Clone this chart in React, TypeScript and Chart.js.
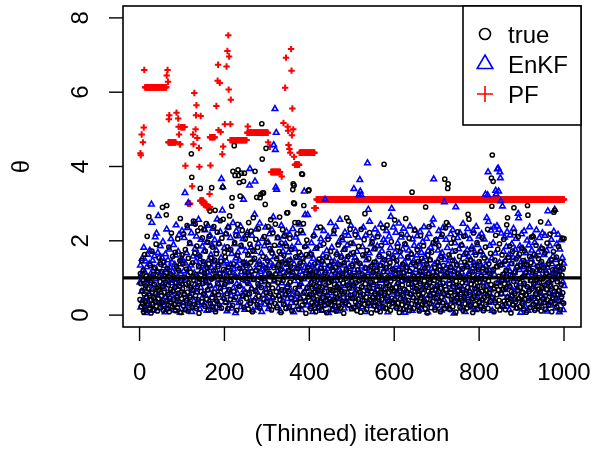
import React, { useEffect, useRef } from "react";
import { Chart, registerables } from "chart.js";

Chart.register(...registerables);

// Axis ticks and reference level
const xTicks = [0, 200, 400, 600, 800, 1000];
const yTicks = [0, 2, 4, 6, 8];
const refLevel = 1;
const seriesNames = ["true", "EnKF", "PF"];
const xTitle = "(Thinned) iteration";
const yTitle = "θ";

// true parameter draws, iterations 1..1000
const trueValues = [
  0.42,1.12,0.85,0.23,1.47,0.66,0.31,0.94,1.21,0.08,
  0.57,1.63,0.35,0.79,0.14,1.05,0.48,2.12,0.27,0.71,
  0.96,2.65,0.19,0.53,1.34,0.88,0.06,0.41,1.72,0.62,
  0.29,1.09,0.47,0.15,0.83,1.28,0.37,0.58,1.91,0.24,
  0.73,0.11,1.16,0.44,0.67,1.54,0.32,0.9,0.21,1.37,
  0.52,1.18,0.34,2.9,0.77,0.13,1.42,0.61,0.26,1.05,
  0.89,0.38,2.7,2.95,0.17,1.26,0.55,0.81,1.83,0.09,
  0.46,1.12,0.69,0.33,2.21,0.95,0.22,1.58,0.64,0.41,
  1.03,0.28,0.74,1.69,0.12,0.86,1.31,0.49,0.2,2.05,
  0.59,1.21,0.36,0.78,1.47,2.6,0.07,0.93,0.44,1.62,
  0.71,1.38,0.25,2.18,0.56,1.02,0.15,1.76,0.83,0.39,
  1.24,2.41,0.62,0.11,1.53,0.87,0.32,1.95,0.48,1.15,
  0.74,4.34,3.71,0.21,1.41,0.66,2.53,0.94,0.29,1.67,
  2.45,0.53,1.09,0.18,1.86,0.77,2.27,0.41,1.32,0.05,
  0.98,1.59,3.41,2.35,0.63,1.17,0.36,2.08,0.85,1.44,
  0.57,2.31,1.13,0.24,1.72,0.92,2.46,0.43,1.27,0.68,
  1.96,0.14,1.38,2.12,0.79,2.8,0.31,1.54,0.97,3.43,
  0.47,1.83,0.22,1.19,2.38,0.61,1.48,2.82,0.09,1.04,
  1.65,0.38,2.23,0.86,1.31,0.55,1.92,0.27,1.12,2.54,
  0.72,1.45,0.19,2.07,0.96,3.44,2.58,1.23,0.44,1.69,
  0.83,1.57,0.34,2.19,1.06,0.58,1.84,0.17,1.29,2.36,
  0.69,2.67,1.14,0.42,1.76,0.91,2.93,3.16,0.26,3.87,
  1.38,0.64,4.56,1.95,3.76,0.48,2.14,1.02,0.13,1.61,
  2.44,3.91,3.76,0.77,3.57,1.26,3.2,0.35,1.88,3.82,
  0.97,2.28,0.53,1.43,3.6,0.21,3.82,1.17,2.05,0.62,
  1.34,0.45,2.17,0.88,1.63,0.16,2.49,1.08,0.57,1.91,
  0.32,1.42,2.26,0.71,1.18,0.09,1.74,2.62,0.96,0.39,
  1.53,3.87,0.66,2.04,1.21,3.17,0.28,1.82,0.84,2.33,
  0.51,1.37,0.19,3.16,1.01,3.25,0.74,5.15,4.2,3.29,
  1.58,3.29,0.43,2.11,0.92,2.98,1.27,4.49,0.61,1.96,
  0.37,1.46,2.38,0.82,1.13,0.24,1.79,0.58,2.57,1.04,
  0.14,1.67,0.73,2.21,0.46,1.28,0.95,1.88,0.31,2.45,
  1.11,0.63,1.52,0.2,2.09,0.87,1.35,0.52,1.71,2.64,
  0.41,1.22,0.07,1.94,0.68,1.43,2.3,0.93,0.29,1.61,
  1.05,2.13,0.55,1.39,0.18,1.86,2.75,0.76,2.76,1.19,
  0.64,1.48,0.23,2.06,0.89,1.32,0.47,1.77,0.12,1.16,
  3.38,3.53,3.02,3.49,3.0,2.49,0.72,1.57,0.34,1.03,
  2.19,0.58,1.25,2.49,0.16,1.69,0.81,1.4,0.44,2.28,
  0.97,3.8,0.27,3.79,1.52,2.46,2.95,0.62,1.84,0.38,
  1.14,0.05,1.63,2.02,0.74,1.29,0.49,3.35,3.37,1.08,
  0.56,1.21,0.18,0.87,1.64,0.33,0.72,1.09,0.45,2.13,
  0.27,0.94,1.38,0.61,0.09,1.17,0.79,1.82,0.41,0.66,
  1.03,0.22,1.51,0.57,0.86,2.37,0.35,1.26,0.14,0.74,
  1.45,0.48,0.98,1.92,0.26,0.63,1.14,0.39,0.81,1.57,
  0.07,1.02,0.53,2.04,0.31,0.88,1.33,0.44,0.69,1.71,
  0.28,0.92,1.44,0.15,0.67,1.19,0.42,2.27,0.83,0.36,
  1.28,0.58,0.11,1.63,0.77,0.47,1.08,1.89,0.24,0.71,
  1.36,0.52,0.95,0.19,1.55,0.64,2.09,0.38,1.12,0.86,
  0.05,1.41,0.62,1.77,0.33,0.99,1.24,2.62,0.46,0.81,
  1.58,2.53,0.27,0.73,1.15,2.31,0.54,1.94,0.18,0.9,
  1.33,0.45,0.79,1.68,0.21,1.06,0.58,2.16,0.35,0.87,
  1.47,0.12,0.69,1.22,0.43,1.85,0.26,0.94,1.39,0.61,
  0.08,2.31,0.76,1.11,0.39,1.62,0.55,0.97,2.03,0.29,
  2.73,0.84,1.27,0.48,0.16,1.74,0.66,1.04,0.32,1.52,
  0.74,2.22,0.41,0.89,1.31,0.06,0.63,1.96,0.47,1.16,
  0.82,0.25,1.43,0.57,1.79,0.36,0.93,1.21,0.14,0.68,
  2.11,0.49,1.06,0.31,1.58,0.77,0.09,1.34,0.62,1.88,
  0.42,0.96,2.35,0.23,1.17,4.06,0.54,1.49,0.71,0.18,
  1.27,0.87,2.42,0.38,1.03,0.6,1.66,0.27,0.79,1.41,
  0.13,0.92,1.98,0.46,0.72,1.24,0.34,1.55,0.66,0.99,
  2.56,0.41,1.09,0.74,0.19,1.46,0.58,1.83,0.32,0.87,
  1.22,0.07,0.65,1.71,0.44,1.02,2.18,0.28,0.81,1.37,
  0.53,0.15,1.14,0.69,1.92,0.36,2.6,0.95,0.23,1.29,
  0.61,1.57,0.4,0.83,2.07,0.12,1.18,0.56,0.97,1.64,
  0.3,3.31,0.75,1.41,0.47,0.18,1.05,2.29,0.63,0.88,
  1.32,0.39,0.71,1.76,0.24,0.98,1.45,0.55,0.11,1.19,
  0.84,2.14,0.46,0.68,1.53,0.29,1.07,0.59,1.86,0.35,
  0.92,1.26,0.17,2.91,0.78,1.38,0.43,0.06,1.61,0.64,
  1.12,2.38,0.31,0.89,1.49,0.52,0.2,1.69,0.76,1.03,
  0.37,1.95,0.58,0.94,1.28,0.14,0.67,2.03,0.45,1.15,
  0.81,0.26,1.42,0.63,1.87,0.38,0.97,1.21,0.09,0.72,
  1.56,0.48,2.17,0.33,0.86,1.33,0.57,0.18,3.66,1.08,
  2.35,0.69,2.49,0.27,1.14,3.41,3.53,0.52,1.62,0.84,
  0.15,1.29,0.61,1.94,0.42,0.99,1.47,0.23,0.77,2.06,
  0.36,1.18,0.54,1.73,0.08,0.91,1.36,0.47,2.24,0.65,
  1.11,0.34,0.79,1.58,0.21,1.02,0.56,1.89,0.4,0.87,
  1.25,0.13,0.68,2.12,0.49,1.43,0.3,0.95,1.67,0.58,
  0.19,1.31,0.74,2.71,0.37,2.58,1.07,0.62,1.49,0.25,
  0.83,1.78,0.44,1.16,0.07,0.93,2.21,0.51,1.34,0.71,
  0.28,1.62,0.98,0.42,1.95,0.16,0.77,1.23,0.59,1.44,
  0.35,0.89,1.71,0.22,1.05,0.64,2.08,0.41,1.27,0.12,
  0.76,1.54,0.48,0.97,1.83,0.29,0.66,1.19,0.53,2.31,
  0.18,0.92,1.38,0.6,1.12,0.37,1.66,0.82,3.69,2.93,
  4.31,0.47,3.6,1.23,0.09,0.71,1.48,0.33,2.15,0.86,
  1.31,0.55,0.24,1.77,0.68,1.04,0.4,1.92,0.14,0.79,
  1.35,0.57,0.93,1.62,0.26,1.1,0.69,2.04,0.38,0.84,
  1.45,0.15,0.72,1.21,2.43,0.49,2.62,0.96,1.56,0.31,
  0.78,1.86,0.44,1.08,0.06,0.63,1.39,0.52,1.72,0.27,
  0.91,2.89,2.22,0.58,1.17,0.36,1.51,0.81,0.19,1.29,
  0.67,2.11,0.45,0.98,1.64,0.23,0.74,1.33,0.51,1.81,
  0.32,1.02,0.61,1.47,0.17,0.86,1.73,0.42,1.14,0.55,
  0.08,1.36,0.77,2.95,2.69,0.39,1.25,0.64,1.58,0.21,
  0.93,1.41,2.1,0.48,0.72,1.19,2.12,0.29,0.84,1.63,
  0.13,1.07,0.57,1.88,0.35,0.96,1.32,0.46,0.7,1.52,
  0.24,0.88,1.21,0.62,2.51,0.11,1.44,0.75,1.79,0.43,
  0.99,1.28,0.34,0.81,1.67,0.52,0.16,1.13,0.69,1.94,
  0.41,0.87,1.37,0.27,1.05,0.58,2.18,0.36,0.78,1.49,
  0.09,0.95,1.22,0.47,1.71,2.77,0.63,2.82,0.31,1.11,
  0.74,1.56,0.22,0.9,1.3,0.54,1.85,0.38,0.66,1.18,
  0.14,1.42,0.83,0.49,1.07,2.07,0.6,1.26,0.32,2.06,
];

// EnKF estimates, iterations 1..1000
const enkfValues = [
  0.88,1.34,0.21,1.07,0.63,1.52,0.39,0.95,1.21,1.82,
  0.14,1.16,0.72,1.45,0.48,0.06,1.29,0.84,1.63,0.31,
  1.01,0.57,1.38,1.74,0.25,0.92,1.12,2.98,2.49,0.68,
  1.47,0.12,0.81,1.26,1.59,0.44,2.1,0.97,0.33,2.2,
  1.19,0.54,1.68,2.67,0.76,1.03,0.19,1.41,1.86,0.62,
  1.14,0.36,1.55,0.83,1.97,0.27,1.09,0.71,1.33,0.08,
  1.64,0.49,1.22,2.31,0.93,0.41,1.48,0.17,1.05,1.77,
  0.59,1.28,0.35,2.05,0.86,1.42,0.23,1.17,0.66,1.89,
  0.45,0.98,1.36,0.13,1.61,2.42,0.77,1.24,0.52,1.03,
  1.71,0.29,2.16,0.91,1.37,0.07,1.11,0.64,1.53,2.27,
  0.84,1.46,0.32,1.18,2.08,0.57,3.29,1.39,0.15,0.96,
  1.67,0.43,2.35,1.08,3.02,0.26,1.25,0.78,1.92,0.51,
  1.34,2.21,0.09,1.02,0.69,1.58,2.46,0.37,1.13,0.82,
  1.79,0.22,1.44,2.12,0.61,1.06,0.34,1.63,2.57,0.89,
  1.29,0.16,1.51,0.74,2.03,1.19,0.46,1.85,0.95,1.37,
  0.28,1.72,1.04,2.29,0.53,1.31,0.87,1.96,0.12,1.15,
  2.41,0.67,1.49,0.38,1.08,2.15,0.79,1.62,0.24,1.27,
  1.88,0.55,2.33,0.99,0.14,1.43,2.02,0.71,1.21,0.42,
  1.74,1.06,2.58,0.31,1.35,0.83,1.93,0.19,1.12,2.24,
  0.62,1.54,3.67,0.95,2.82,3.45,0.47,1.39,0.76,1.81,
  1.18,0.35,2.19,0.88,1.45,0.11,1.03,2.37,0.64,1.29,
  1.76,0.27,0.93,2.08,1.36,0.52,1.65,0.18,1.14,2.48,
  0.73,1.24,0.41,1.91,1.07,0.06,1.53,2.26,0.84,1.32,
  0.58,1.69,2.13,0.33,1.01,1.47,0.79,2.39,0.22,1.16,
  1.84,0.49,1.27,2.05,3.11,0.67,1.41,0.15,1.09,1.73,
  0.92,1.38,0.26,2.22,1.13,0.57,1.61,0.84,3.49,3.94,
  1.26,0.38,1.82,0.71,2.14,1.02,0.13,1.49,0.96,1.71,
  2.71,3.6,0.45,1.19,2.31,0.63,1.35,0.21,1.06,1.93,
  0.78,1.44,2.47,0.34,1.17,0.89,1.67,0.09,1.23,2.06,
  0.55,1.31,0.97,1.86,0.29,1.11,2.36,0.68,1.52,0.43,
  1.27,0.81,1.96,0.17,1.08,2.18,0.62,1.42,0.36,1.74,
  1.05,2.29,0.48,1.33,2.64,4.58,0.91,1.57,5.55,4.45,
  3.44,4.91,3.38,0.24,1.18,2.07,0.73,1.39,0.52,1.88,
  1.12,0.11,1.64,2.41,0.86,1.24,0.39,1.71,2.12,0.65,
  1.46,0.28,1.03,1.92,0.57,2.25,1.15,0.44,1.36,0.82,
  1.69,0.19,1.21,2.17,0.68,1.48,0.33,1.07,1.83,0.54,
  2.32,1.13,0.08,1.37,0.92,1.78,0.41,2.09,1.26,0.61,
  1.54,0.23,1.01,1.95,0.76,1.32,2.44,0.47,1.17,0.85,
  1.62,0.14,1.09,2.21,0.58,1.43,0.97,3.33,1.28,2.7,
  0.36,1.86,0.71,1.19,0.26,2.7,1.04,1.58,0.49,1.35,
  0.83,1.66,0.22,1.12,1.94,0.57,1.31,0.09,0.98,1.52,
  2.16,0.44,1.23,0.77,1.79,0.31,1.07,2.34,0.62,1.41,
  0.18,1.14,0.86,1.87,0.39,1.28,2.05,0.69,1.47,0.12,
  1.02,1.61,0.53,2.27,0.94,1.36,3.11,0.27,1.18,0.74,
  1.73,0.41,1.25,2.11,0.06,0.97,1.54,0.59,1.33,2.48,
  0.35,1.09,1.82,0.66,1.27,0.15,2.19,0.92,1.45,0.48,
  1.13,2.38,0.24,1.01,1.67,0.73,1.39,0.11,1.96,0.84,
  1.21,2.57,0.43,1.15,0.67,1.58,0.32,2.02,1.06,0.56,
  1.76,0.18,1.34,2.23,0.79,1.19,0.38,1.49,1.88,0.61,
  1.04,2.14,0.27,1.29,0.87,1.63,0.45,2.41,1.1,0.72,
  1.37,0.16,1.92,0.83,3.4,1.22,0.47,1.55,2.26,0.64,
  1.08,1.71,0.29,1.42,2.09,0.91,3.24,1.16,3.64,3.33,
  0.53,3.24,1.31,0.21,1.84,0.75,2.36,1.03,0.4,1.59,
  1.26,0.09,2.15,0.96,1.48,0.58,4.09,1.13,2.84,0.34,
  1.67,2.52,0.71,1.19,0.25,1.91,0.87,1.35,2.07,0.49,
  1.14,1.78,0.32,1.05,2.31,0.62,1.43,0.14,1.27,1.86,
  0.77,2.18,0.45,1.11,1.62,0.26,1.33,2.44,0.93,0.57,
  1.72,1.01,0.19,1.49,2.03,0.68,1.24,0.37,1.95,0.84,
  1.38,2.27,0.52,1.17,0.08,1.56,0.99,2.12,0.41,1.29,
  1.81,2.65,0.73,2.87,1.06,0.3,1.52,2.36,0.61,1.21,
  0.44,1.69,1.12,2.22,0.23,1.36,0.85,1.93,0.56,1.24,
  2.47,0.71,1.05,0.17,1.58,2.09,0.92,1.31,0.38,1.77,
  1.15,2.33,0.49,1.42,0.07,1.01,1.89,0.66,1.27,2.16,
  0.33,1.53,0.97,1.74,0.21,1.18,2.39,0.58,1.35,0.82,
  1.64,0.12,2.04,1.09,0.47,1.46,1.87,0.74,2.28,0.95,
  1.22,0.36,1.61,2.13,0.63,1.07,1.84,0.26,1.39,0.89,
  2.24,1.14,0.51,1.68,0.15,1.27,1.97,0.72,1.45,2.37,
  0.42,1.03,1.56,0.29,1.19,2.06,0.81,1.34,0.08,1.73,
  1.11,2.19,0.55,1.48,0.94,1.82,0.31,1.25,2.43,0.67,
  1.16,2.58,3.66,0.46,1.37,1.91,0.19,1.08,2.01,0.77,
  1.43,0.58,1.74,1.02,2.27,0.34,1.31,0.86,1.59,2.11,
  0.13,1.18,1.67,0.61,2.35,1.05,0.41,3.04,1.49,0.78,
  1.26,2.03,0.24,1.12,1.81,0.53,1.37,2.42,0.92,0.17,
  1.55,1.09,2.18,0.69,1.28,0.37,1.71,2.29,0.83,1.16,
  0.05,1.46,1.94,0.62,2.91,1.03,0.48,1.34,2.08,0.75,
  1.23,1.78,0.32,1.07,2.21,0.59,1.42,0.18,1.15,1.88,
  0.71,2.46,1.01,0.44,1.63,1.29,0.09,2.14,0.87,1.36,
  0.52,1.75,2.32,0.27,1.11,1.57,0.66,2.05,1.19,0.38,
  1.48,0.94,1.83,0.21,1.26,2.27,0.56,1.41,0.81,1.68,
  0.14,1.02,2.38,0.73,1.32,1.89,0.47,1.17,0.96,2.12,
  0.61,1.39,0.25,1.72,1.08,2.19,0.43,1.27,0.88,1.61,
  0.16,2.04,1.14,0.57,3.25,1.33,0.79,2.62,1.46,3.23,
  3.85,2.51,0.34,1.21,1.87,0.67,1.05,2.28,0.49,1.53,
  0.12,1.18,1.94,0.72,2.36,1.09,0.38,1.66,3.35,3.26,
  1.29,2.4,3.93,0.86,3.95,3.33,2.3,1.42,3.85,3.69,
  3.07,2.2,0.58,1.35,2.93,0.95,1.71,0.23,1.12,2.09,
  0.68,1.47,0.31,1.84,1.03,2.24,0.47,1.26,0.84,1.62,
  0.14,1.19,2.15,0.76,1.38,0.52,1.91,1.07,0.29,1.55,
  2.33,0.63,1.14,0.41,1.76,0.97,2.06,0.19,1.31,0.73,
  1.58,2.73,2.61,0.45,1.22,1.86,0.88,0.07,1.43,2.18,
  0.62,1.29,1.79,0.36,1.08,2.26,0.81,1.44,0.22,1.67,
  1.16,0.54,2.01,1.32,0.12,1.05,1.88,0.69,2.37,1.23,
  0.43,1.52,0.93,1.74,0.27,1.13,2.12,0.77,1.36,0.49,
  1.95,1.01,0.16,1.59,2.29,0.64,1.21,0.86,1.69,0.31,
  1.11,2.08,0.58,1.4,0.96,1.81,0.24,1.27,2.21,0.71,
  1.34,0.47,1.62,1.04,2.14,0.33,1.19,0.82,1.73,0.1,
  1.28,2.8,2.47,0.6,1.45,0.91,1.86,0.26,1.07,2.03,
  0.72,1.37,0.44,1.58,1.14,2.25,0.53,2.84,1.24,0.18,
  1.49,0.97,1.91,0.38,1.16,2.17,0.66,1.31,0.08,1.77,
  1.02,0.55,2.02,1.23,0.35,1.54,0.89,0.14,1.39,0.79,
];

// PF chain: constant stretches (first iteration, last iteration, level)
const pfRunStart = [13, 68, 97, 114, 143, 151, 159, 166, 214, 254, 310, 366, 377, 412, 417];
const pfRunEnd = [63, 85, 106, 119, 150, 158, 166, 177, 252, 302, 331, 376, 412, 415, 1000];
const pfRunLevel = [6.13, 4.65, 5.06, 3.0, 3.08, 2.98, 2.9, 4.79, 4.71, 4.91, 3.85, 4.05, 4.37, 2.88, 3.11];

// PF chain: isolated moves
const pfIter = [
  2, 3, 5, 8, 10, 11, 64, 66, 67, 69, 70, 87, 91, 92, 93, 95, 96, 108, 124, 126, 127, 129,
  132, 133, 134, 136, 140, 141, 144, 165, 167, 181, 184, 185, 186, 189, 191, 195, 197, 201,
  205, 207, 209, 210, 211, 214, 215, 255, 303, 307, 335, 339, 343, 345, 349, 350, 351, 353,
  355, 357, 358, 359, 360, 362, 364,
];
const pfValue = [
  4.36, 4.3, 4.86, 4.65, 5.05, 6.6, 6.45, 6.6, 6.28, 5.27, 5.38, 5.45, 5.29, 5.07, 4.86, 4.6,
  4.6, 4.02, 3.47, 4.86, 4.6, 5.98, 5.0, 5.38, 5.65, 4.77, 4.5, 3.99, 5.36, 3.26, 4.03, 5.63,
  6.31, 6.74, 4.98, 6.25, 4.93, 4.33, 4.54, 5.14, 6.69, 7.11, 7.53, 6.07, 6.96, 5.14, 5.8,
  5.08, 4.65, 4.53, 3.73, 5.17, 6.12, 6.93, 5.07, 4.96, 4.58, 4.47, 4.37, 7.16, 6.58, 4.84,
  5.56, 5.0, 4.26,
];

const FONT = '24px "Liberation Sans", Arial, Helvetica, sans-serif';

function buildPf() {
  const pts: { x: number; y: number }[] = [];
  pfRunStart.forEach((s, k) => {
    for (let it = s; it <= pfRunEnd[k]; it++) pts.push({ x: it, y: pfRunLevel[k] });
  });
  pfIter.forEach((it, k) => pts.push({ x: it, y: pfValue[k] }));
  return pts;
}

function drawSymbol(ctx: CanvasRenderingContext2D, kind: string, x: number, y: number, r: number) {
  ctx.beginPath();
  if (kind === "circle") {
    ctx.arc(x, y, r, 0, Math.PI * 2);
  } else if (kind === "triangle") {
    for (let k = 0; k < 3; k++) {
      const a = (k * 2 * Math.PI) / 3;
      const px = x + Math.sin(a) * r;
      const py = y - Math.cos(a) * r;
      if (k === 0) ctx.moveTo(px, py);
      else ctx.lineTo(px, py);
    }
    ctx.closePath();
  } else {
    ctx.moveTo(x - r, y);
    ctx.lineTo(x + r, y);
    ctx.moveTo(x, y - r);
    ctx.lineTo(x, y + r);
  }
  ctx.stroke();
}

const framePlugin = {
  id: "rframe",
  afterDatasetsDraw(chart: any) {
    const { ctx, chartArea: a, scales } = chart;
    const yr = scales.y.getPixelForValue(refLevel);
    ctx.save();
    ctx.strokeStyle = "#000";
    ctx.lineWidth = 3.2;
    ctx.beginPath();
    ctx.moveTo(a.left, yr);
    ctx.lineTo(a.right, yr);
    ctx.stroke();
    ctx.restore();
  },
  afterDraw(chart: any) {
    const { ctx, chartArea: a, scales } = chart;
    ctx.save();
    ctx.strokeStyle = "#000";
    ctx.fillStyle = "#000";
    ctx.lineWidth = 1.6;
    ctx.strokeRect(a.left, a.top, a.right - a.left, a.bottom - a.top);

    ctx.font = FONT;
    ctx.lineWidth = 1.4;
    // x axis
    ctx.textAlign = "center";
    ctx.textBaseline = "alphabetic";
    xTicks.forEach((v) => {
      const px = scales.x.getPixelForValue(v);
      ctx.beginPath();
      ctx.moveTo(px, a.bottom);
      ctx.lineTo(px, a.bottom + 14);
      ctx.stroke();
      ctx.fillText(String(v), px, a.bottom + 53);
    });
    ctx.fillText(xTitle, (a.left + a.right) / 2, 441);

    // y axis, labels parallel to the axis
    yTicks.forEach((v) => {
      const py = scales.y.getPixelForValue(v);
      ctx.beginPath();
      ctx.moveTo(a.left, py);
      ctx.lineTo(a.left - 14, py);
      ctx.stroke();
      ctx.save();
      ctx.translate(a.left - 35, py);
      ctx.rotate(-Math.PI / 2);
      ctx.fillText(String(v), 0, 0);
      ctx.restore();
    });
    ctx.save();
    ctx.translate(29, (a.top + a.bottom) / 2);
    ctx.rotate(-Math.PI / 2);
    ctx.fillText(yTitle, 0, 0);
    ctx.restore();

    // legend
    const lx = 463, ly = a.top, lw = a.right - 463, lh = 119;
    ctx.fillStyle = "#fff";
    ctx.fillRect(lx, ly, lw, lh);
    ctx.lineWidth = 1.6;
    ctx.strokeStyle = "#000";
    ctx.strokeRect(lx, ly, lw, lh);
    const rows = [34, 64, 94];
    const kinds = ["circle", "triangle", "cross"];
    const colors = ["#000000", "#0000ff", "#ff0000"];
    const sizes = [5.5, 9, 8];
    ctx.textAlign = "left";
    rows.forEach((ry, k) => {
      ctx.strokeStyle = colors[k];
      ctx.lineWidth = 1.6;
      drawSymbol(ctx, kinds[k], 485, ry, sizes[k]);
      ctx.fillStyle = "#000";
      ctx.fillText(seriesNames[k], 508, ry + 8.5);
    });
    ctx.restore();
  },
};

export default function App() {
  const ref = useRef<HTMLCanvasElement | null>(null);

  useEffect(() => {
    if (!ref.current) return;
    const chart = new Chart(ref.current, {
      type: "scatter",
      data: {
        datasets: [
          {
            label: seriesNames[0],
            data: trueValues.map((v, i) => ({ x: i + 1, y: v })),
            pointStyle: "circle",
            pointRadius: 2.1,
            pointBorderWidth: 1.5,
            borderColor: "#000000",
            backgroundColor: "rgba(0,0,0,0)",
            order: 0,
          },
          {
            label: seriesNames[1],
            data: enkfValues.map((v, i) => ({ x: i + 1, y: v })),
            pointStyle: "triangle",
            pointRadius: 3.2,
            pointBorderWidth: 1.6,
            borderColor: "#0000ff",
            backgroundColor: "rgba(0,0,0,0)",
            order: 1,
          },
          {
            label: seriesNames[2],
            data: buildPf(),
            pointStyle: "cross",
            pointRadius: 3.2,
            pointBorderWidth: 2,
            borderColor: "#ff0000",
            backgroundColor: "#ff0000",
            order: 2,
          },
        ],
      },
      options: {
        responsive: false,
        animation: false,
        events: [],
        layout: { padding: { left: 123, right: 19, top: 4, bottom: 123 } },
        plugins: { legend: { display: false }, tooltip: { enabled: false } },
        scales: {
          x: { type: "linear", min: -39, max: 1040, display: false },
          y: { type: "linear", min: -0.32, max: 8.32, display: false },
        },
      },
      plugins: [framePlugin],
    });
    return () => chart.destroy();
  }, []);

  return (
    <div style={{ position: "fixed", left: 0, top: 0, width: 600, height: 450, background: "#fff" }}>
      <canvas ref={ref} width={600} height={450} style={{ display: "block" }} />
    </div>
  );
}
